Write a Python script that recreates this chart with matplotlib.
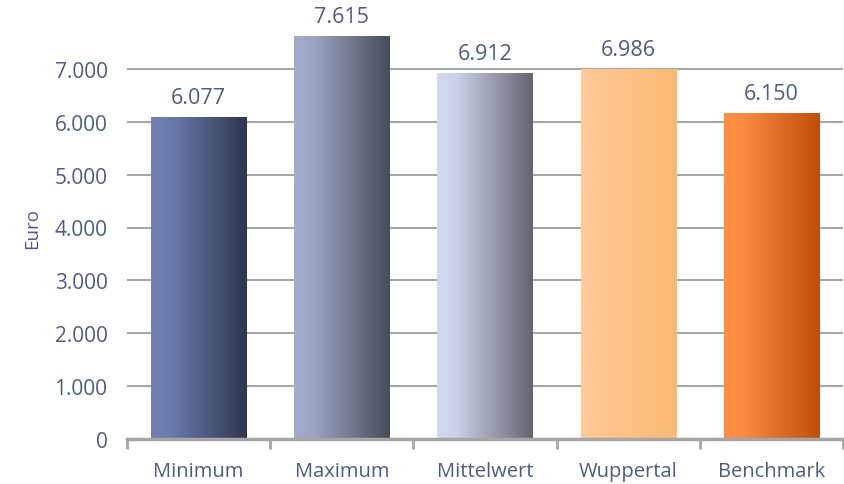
import numpy as np
import matplotlib
matplotlib.use("Agg")
import matplotlib.pyplot as plt
from matplotlib.colors import LinearSegmentedColormap

categories = ["Minimum", "Maximum", "Mittelwert", "Wuppertal", "Benchmark"]
values = [6077, 7615, 6912, 6986, 6150]
value_labels = ["6.077", "7.615", "6.912", "6.986", "6.150"]
yticks = [0, 1000, 2000, 3000, 4000, 5000, 6000, 7000]
ytick_labels = ["0", "1.000", "2.000", "3.000", "4.000", "5.000", "6.000", "7.000"]
ylabel = "Euro"

grad_colors = [
    ("#6f82b2", "#6a7cab", "#2e364d"),
    ("#a3abca", "#9da5c3", "#474c5a"),
    ("#d2d8ef", "#ccd2e9", "#62646f"),
    ("#fdcc9a", "#fdc68e", "#fbb873"),
    ("#ff9045", "#fb8b40", "#c04e0b"),
]

txt = "#4d5d82"
grid_c = "#a6a6a6"
plt.rcParams["font.family"] = ["Open Sans", "DejaVu Sans"]

fig = plt.figure(figsize=(8.45, 4.85), dpi=100)
ax = fig.add_axes([127/845, 45/485, (843-127)/845, (440-17)/485])

x = np.arange(len(categories))
bars = ax.bar(x, values, width=0.665, color="none", edgecolor="none", zorder=3)

grad = np.linspace(0, 1, 256).reshape(1, -1)
for b, (c0, cm, c1), lab in zip(bars, grad_colors, value_labels):
    cmap = LinearSegmentedColormap.from_list("g", [(0, c0), (0.2, cm), (1, c1)])
    bx, bw, bh = b.get_x(), b.get_width(), b.get_height()
    ax.imshow(grad, cmap=cmap, aspect="auto", extent=[bx, bx + bw, 0, bh],
              zorder=3, interpolation="bilinear")
    ax.annotate(lab, (bx + bw / 2, bh), xytext=(0, 7), textcoords="offset points",
                ha="center", va="bottom", fontsize=15.5, color=txt)
ax.set_xlim(-0.5, len(categories) - 0.5)
ax.set_ylim(0, 8000)

ax.set_yticks(yticks)
ax.set_yticklabels(ytick_labels)
ax.set_xticks(x)
ax.set_xticklabels(categories)
ax.tick_params(axis="y", length=0, labelsize=15, labelcolor=txt, pad=14)
ax.tick_params(axis="x", length=0, labelsize=14.5, labelcolor=txt, pad=16)
ax.set_xticks(np.arange(-0.5, len(categories)), minor=True)
ax.tick_params(axis="x", which="minor", length=7, width=2, color=grid_c, direction="out")

for s in ["top", "right", "left"]:
    ax.spines[s].set_visible(False)
ax.spines["bottom"].set_color(grid_c)
ax.spines["bottom"].set_linewidth(2.5)
ax.spines["bottom"].set_zorder(4)

ax.grid(axis="y", color=grid_c, linewidth=1.5, zorder=0)
ax.set_axisbelow(True)
ax.set_ylabel(ylabel, color=txt, fontsize=13.5, labelpad=10)

fig.savefig("out.png", dpi=100)
